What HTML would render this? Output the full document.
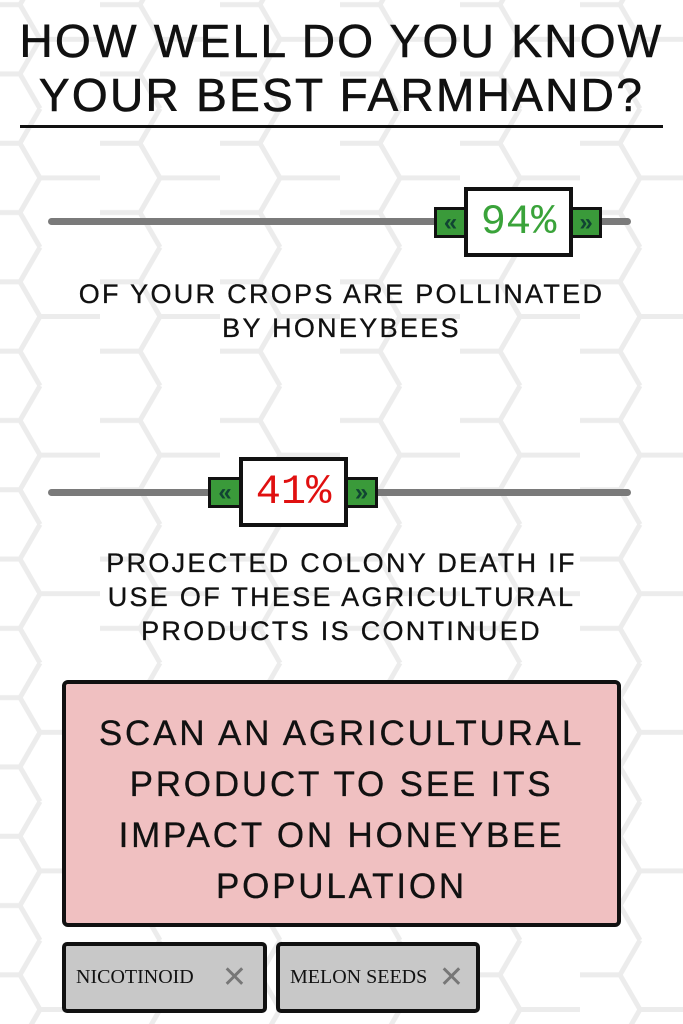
<!DOCTYPE html>
<html><head><meta charset="utf-8"><style>
html,body{margin:0;padding:0}
body{width:683px;height:1024px;position:relative;overflow:hidden;background:#fff;font-family:"Liberation Sans",sans-serif;color:#111}
.abs{position:absolute}
.title{left:0;width:683px;text-align:center;font-size:46px;line-height:54px;top:14px;letter-spacing:2.3px;-webkit-text-stroke:0.6px #111}
.rule{left:20px;width:643px;top:125px;height:3px;background:#111}
.track{height:7px;background:#7a7a7a;border-radius:4px;left:48px;width:583px}
.grn{background:#3a9a3a;border:3px solid #111;box-sizing:border-box;color:#143;font-size:24px;font-weight:bold;display:flex;align-items:center;justify-content:center;line-height:1}
.val{background:#fff;border:4px solid #111;box-sizing:border-box;font-family:"Liberation Mono",monospace;font-size:42px;display:flex;align-items:center;justify-content:center}
.cap{left:0;width:683px;text-align:center;font-size:27px;line-height:34px;letter-spacing:2.3px;-webkit-text-stroke:0.3px #111}
.pink{left:62px;top:680px;width:559px;height:247px;background:#f0c0c1;border:4px solid #111;border-radius:6px;box-sizing:border-box;text-align:center;font-size:35px;line-height:51px;padding-top:24px;letter-spacing:2.8px;-webkit-text-stroke:0.3px #111}
.tag{top:942px;height:71px;background:#c8c8c8;border:4px solid #111;border-radius:5px;box-sizing:border-box;font-family:"Liberation Serif",serif;font-size:20px;display:flex;align-items:center;padding-left:10px}
.x{color:#777;font-family:"Liberation Sans",sans-serif;font-size:30px;margin-left:auto;margin-right:16px}
</style></head><body>
<svg class="abs" style="left:0;top:0" width="683" height="1024">
<defs><pattern id="hex" width="120" height="138.6" patternUnits="userSpaceOnUse" patternTransform="translate(-20,-30)">
<path d="M0,34.6 L40,34.6 L60,0 M40,34.6 L60,69.3 L40,103.9 L0,103.9 M60,69.3 L120,69.3 M40,103.9 L60,138.6" fill="none" stroke="#ececec" stroke-width="5"/>
</pattern></defs>
<rect width="683" height="1024" fill="url(#hex)"/>
</svg>
<div class="abs title">HOW WELL DO YOU KNOW<br>YOUR BEST FARMHAND?</div>
<div class="abs rule"></div>

<div class="abs track" style="top:218px"></div>
<div class="abs grn" style="left:434px;top:207px;width:33px;height:31px">«</div>
<div class="abs grn" style="left:570px;top:207px;width:32px;height:31px">»</div>
<div class="abs val" style="left:464px;top:187px;width:109px;height:70px;color:#3aa33a">94%</div>
<div class="abs cap" style="top:277px">OF YOUR CROPS ARE POLLINATED<br>BY HONEYBEES</div>

<div class="abs track" style="top:489px"></div>
<div class="abs grn" style="left:208px;top:477px;width:34px;height:31px">«</div>
<div class="abs grn" style="left:345px;top:477px;width:33px;height:31px">»</div>
<div class="abs val" style="left:239px;top:457px;width:109px;height:70px;color:#e01010">41%</div>
<div class="abs cap" style="top:546px">PROJECTED COLONY DEATH IF<br>USE OF THESE AGRICULTURAL<br>PRODUCTS IS CONTINUED</div>

<div class="abs pink">SCAN AN AGRICULTURAL<br>PRODUCT TO SEE ITS<br>IMPACT ON HONEYBEE<br>POPULATION</div>

<div class="abs tag" style="left:62px;width:205px">NICOTINOID<span class="x">✕</span></div>
<div class="abs tag" style="left:276px;width:204px">MELON SEEDS<span class="x" style="margin-right:12px">✕</span></div>
</body></html>
